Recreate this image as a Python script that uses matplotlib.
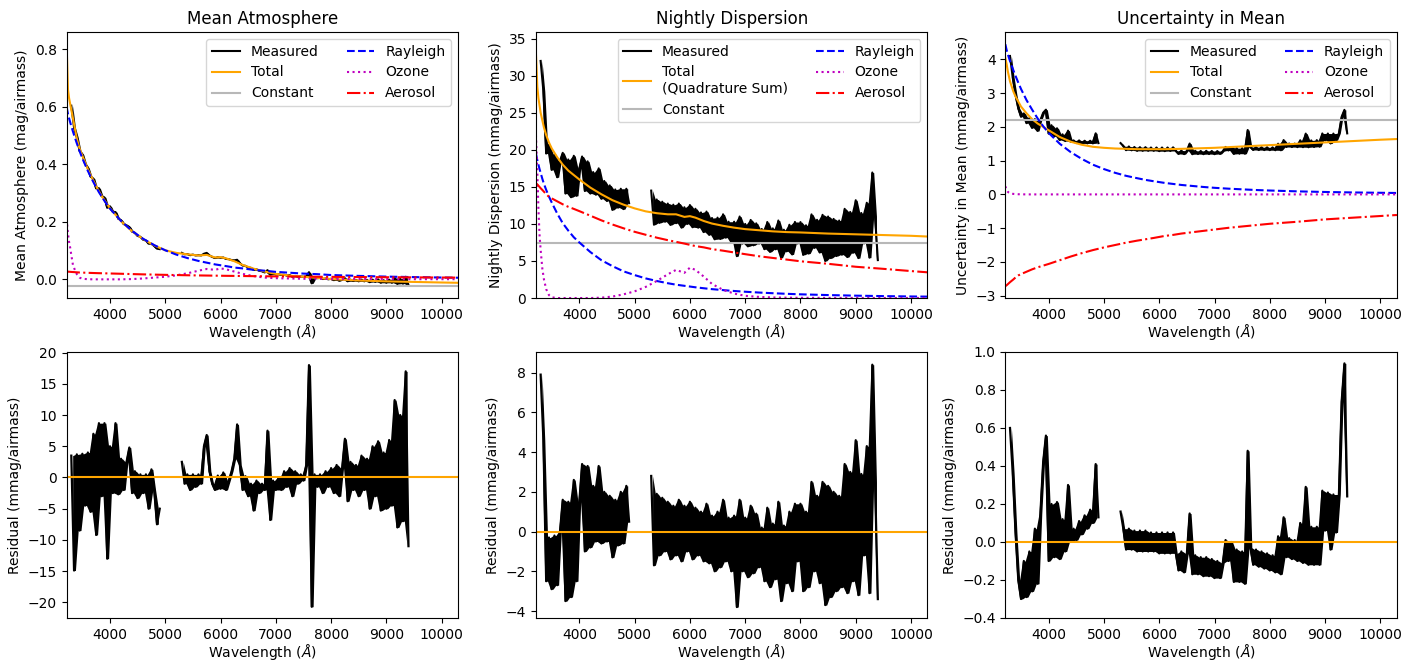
import numpy as np
import matplotlib
matplotlib.use("Agg")
import matplotlib.pyplot as plt

plt.rcParams['font.family'] = ['DejaVu Sans']
plt.rcParams['font.size'] = 10

# ---- model grid (Angstrom) ----
wl_model = [3215, 3240, 3260, 3280, 3300, 3330, 3360, 3400, 3450, 3500,
            3600, 3700, 3800, 3900, 4000, 4200, 4400, 4600, 4800, 5000,
            5200, 5400, 5600, 5750, 5900, 6000, 6100, 6250, 6400, 6600,
            6800, 7000, 7250, 7500, 7750, 8000, 8500, 9000, 9500, 10000, 10300]

# ---- measured grid: blue and red arms ----
wl_blue = np.arange(3300, 4901, 50)
wl_red = np.arange(5300, 9401, 50)

# ================= Mean atmosphere (mag/airmass) =================
mean_total = [0.82, 0.66, 0.63, 0.61, 0.59, 0.56, 0.53, 0.49, 0.455, 0.43,
              0.383, 0.343, 0.306, 0.275, 0.247, 0.202, 0.167, 0.140, 0.118, 0.101,
              0.092, 0.087, 0.083, 0.085, 0.076, 0.077, 0.073, 0.063, 0.050, 0.037,
              0.027, 0.019, 0.013, 0.009, 0.005, 0.001, -0.004, -0.007, -0.009, -0.011, -0.012]
mean_const = -0.022
mean_rayleigh = [0.600, 0.575, 0.560, 0.546, 0.533, 0.514, 0.496, 0.473, 0.446, 0.421,
                 0.377, 0.338, 0.303, 0.273, 0.246, 0.203, 0.168, 0.141, 0.119, 0.101,
                 0.086, 0.074, 0.064, 0.058, 0.052, 0.049, 0.046, 0.041, 0.038, 0.033,
                 0.030, 0.026, 0.023, 0.020, 0.018, 0.015, 0.012, 0.0095, 0.0078, 0.0063, 0.0056]
mean_ozone = [0.21, 0.16, 0.13, 0.11, 0.085, 0.05, 0.035, 0.018, 0.006, 0.002,
              0.0005, 0.0, 0.0, 0.0, 0.0, 0.0, 0.001, 0.003, 0.006, 0.009,
              0.014, 0.021, 0.030, 0.036, 0.033, 0.038, 0.035, 0.027, 0.019, 0.011,
              0.006, 0.004, 0.003, 0.002, 0.002, 0.001, 0.001, 0.001, 0.0005, 0.0005, 0.0005]
mean_aerosol = [0.027, 0.0267, 0.0264, 0.0261, 0.0258, 0.0254, 0.0250, 0.0244, 0.0238, 0.0234,
                0.0227, 0.0220, 0.0214, 0.0210, 0.0204, 0.0194, 0.0183, 0.0173, 0.0164, 0.0156,
                0.0149, 0.0142, 0.0136, 0.0132, 0.0128, 0.0125, 0.0122, 0.0119, 0.0115, 0.0111,
                0.0107, 0.0103, 0.0098, 0.0094, 0.0090, 0.0086, 0.0080, 0.0073, 0.0069, 0.0063, 0.0060]
mean_meas_blue = [0.604, 0.528, 0.494, 0.447, 0.434, 0.402, 0.387, 0.357, 0.350, 0.316,
                  0.317, 0.289, 0.285, 0.249, 0.254, 0.235, 0.234, 0.211, 0.206, 0.192,
                  0.188, 0.182, 0.166, 0.162, 0.151, 0.148, 0.138, 0.135, 0.124, 0.124,
                  0.116, 0.107, 0.105]
mean_meas_red = [0.092, 0.087, 0.088, 0.084, 0.086, 0.083, 0.084, 0.083, 0.089, 0.092,
                 0.083, 0.078, 0.074, 0.077, 0.075, 0.076, 0.071, 0.070, 0.067, 0.066,
                 0.068, 0.056, 0.048, 0.047, 0.041, 0.040, 0.033, 0.035, 0.030, 0.028,
                 0.024, 0.032, 0.016, 0.020, 0.017, 0.018, 0.015, 0.016, 0.013, 0.015,
                 0.009, 0.012, 0.009, 0.010, 0.009, 0.010, 0.025, -0.014, 0.007, 0.004,
                 0.005, 0.001, 0.003, 0.000, 0.002, -0.003, 0.001, -0.005, -0.001, 0.004,
                 -0.007, -0.001, -0.006, -0.002, -0.007, -0.001, -0.007, -0.002, -0.010, -0.001,
                 -0.009, 0.000, -0.012, -0.003, -0.012, -0.001, -0.012, 0.005, -0.016, 0.002,
                 -0.015, 0.009, -0.020]
mean_res_blue = [3.5, -14.9, 3.7, -8.5, 3.8, -4.5, 4.0, -5.5, 7.0, -9.2,
                 8.7, -3.0, 8.7, -13.0, 5.0, -2.5, 8.7, -2.7, 3.0, -2.0,
                 2.5, 4.8, -2.5, 1.0, -3.3, 0.5, -2.5, 0.5, -5.0, 1.3,
                 -2.0, -7.5, -5.0]
mean_res_red = [2.5, -1.0, 0.5, -2.0, 0.5, -1.5, 0.5, -1.0, 5.0, 6.8,
                1.0, -1.0, -2.0, 0.3, -1.8, 0.8, -2.0, -0.5, 1.0, 3.0,
                8.5, 2.0, -2.0, 0.2, -3.0, -1.0, -5.3, -0.5, -2.5, -1.0,
                -2.0, 7.5, -6.8, -0.5, -2.0, 0.0, -2.0, 1.0, -1.5, 1.5,
                -3.0, 1.0, -1.0, 0.5, -0.5, 2.0, 18.0, -20.7, 0.5, -1.5,
                0.5, -2.5, 1.0, -1.5, 1.5, -2.5, 2.0, -3.0, 1.5, 6.2,
                -3.8, 2.5, -2.0, 2.0, -3.0, 3.5, -2.0, 3.0, -5.0, 5.0,
                -3.0, 5.8, -5.3, 4.0, -5.0, 6.0, -4.5, 12.4, -8.0, 10.0,
                -7.0, 17.0, -11.0]

# ================= Nightly dispersion (mmag/airmass) =================
disp_total = [33.0, 28.5, 27.0, 26.0, 25.0, 24.0, 23.0, 22.0, 21.0, 20.2,
              19.0, 18.0, 17.2, 16.6, 16.0, 14.9, 14.0, 13.2, 12.6, 12.1,
              11.7, 11.45, 11.3, 11.3, 10.95, 11.05, 10.85, 10.4, 10.05, 9.75,
              9.5, 9.3, 9.15, 9.0, 8.9, 8.85, 8.7, 8.6, 8.5, 8.4, 8.3]
disp_const = 7.4
disp_rayleigh = [19.5, 18.6, 18.0, 17.4, 16.9, 16.1, 15.4, 14.6, 13.7, 12.9,
                 11.4, 10.1, 9.1, 8.2, 7.5, 6.2, 5.1, 4.3, 3.6, 3.1,
                 2.65, 2.3, 2.0, 1.8, 1.65, 1.55, 1.45, 1.32, 1.2, 1.07,
                 0.95, 0.85, 0.74, 0.65, 0.57, 0.5, 0.4, 0.32, 0.26, 0.21, 0.19]
disp_ozone = [22.0, 17.0, 12.0, 8.5, 6.5, 4.0, 2.5, 1.2, 0.4, 0.1,
              0.0, 0.0, 0.0, 0.0, 0.0, 0.0, 0.05, 0.2, 0.5, 0.9,
              1.5, 2.3, 3.2, 3.8, 3.4, 4.1, 3.8, 2.9, 1.9, 1.1,
              0.6, 0.3, 0.15, 0.08, 0.05, 0.03, 0.02, 0.01, 0.01, 0.01, 0.01]
disp_aerosol = [15.5, 15.33, 15.16, 14.99, 14.82, 14.59, 14.35, 14.01, 13.67, 13.45,
                13.05, 12.65, 12.31, 12.03, 11.73, 11.11, 10.48, 9.92, 9.41, 8.94,
                8.54, 8.15, 7.81, 7.58, 7.35, 7.18, 7.01, 6.84, 6.60, 6.39,
                6.15, 5.92, 5.64, 5.41, 5.19, 4.96, 4.62, 4.22, 3.94, 3.64, 3.47]
disp_meas_blue = [32.0, 27.9, 19.5, 20.7, 17.3, 19.4, 16.3, 18.5, 19.6, 14.1,
                  18.7, 13.6, 19.2, 13.8, 17.5, 19.1, 14.45, 18.45, 14.1, 17.0,
                  13.95, 17.5, 13.4, 15.8, 13.1, 15.2, 11.9, 14.65, 12.2, 14.75,
                  12.0, 14.75, 12.8]
disp_meas_red = [14.5, 9.9, 13.3, 10.15, 13.0, 10.3, 12.75, 9.87, 12.6, 10.1,
                 12.75, 9.5, 12.25, 10.0, 12.55, 9.55, 12.05, 9.5, 11.55, 8.9,
                 11.67, 8.53, 10.8, 7.92, 10.85, 7.97, 11.3, 8.15, 10.3, 7.55,
                 10.3, 5.65, 11.0, 7.35, 10.0, 6.97, 10.54, 7.11, 10.08, 7.35,
                 9.32, 6.59, 10.26, 6.23, 9.4, 6.58, 10.46, 5.44, 9.22, 6.3,
                 9.89, 5.88, 10.27, 7.36, 10.25, 5.83, 9.82, 6.0, 11.29, 6.77,
                 10.56, 6.14, 11.23, 5.01, 11.0, 5.39, 10.68, 5.67, 10.46, 5.85,
                 12.04, 5.53, 11.62, 6.11, 13.2, 5.39, 11.48, 7.37, 12.86, 5.45,
                 16.94, 11.03, 5.12]
disp_res_blue = [7.9, 4.6, -2.5, -0.3, -2.9, -0.2, -2.7, 0.0, 1.6, -3.5,
                 1.5, -3.3, 2.6, -2.5, 1.5, 3.4, -1.0, 3.3, -0.8, 2.3,
                 -0.5, 3.3, -0.6, 2.0, -0.5, 1.8, -1.3, 1.6, -0.7, 2.0,
                 -0.6, 2.3, 0.5]
disp_res_red = [2.8, -1.7, 1.9, -1.2, 1.7, -1.0, 1.5, -1.4, 1.3, -1.2,
                1.6, -1.5, 1.3, -1.0, 1.5, -1.4, 1.2, -1.2, 1.0, -1.5,
                1.4, -1.6, 0.8, -2.0, 1.0, -1.8, 1.6, -1.5, 0.7, -2.0,
                0.8, -3.8, 1.6, -2.0, 0.7, -2.3, 1.3, -2.1, 0.9, -1.8,
                0.2, -2.5, 1.2, -2.8, 0.4, -2.4, 1.5, -3.5, 0.3, -2.6,
                1.0, -3.0, 1.4, -1.5, 1.4, -3.0, 1.0, -2.8, 2.5, -2.0,
                1.8, -2.6, 2.5, -3.7, 2.3, -3.3, 2.0, -3.0, 1.8, -2.8,
                3.4, -3.1, 3.0, -2.5, 4.6, -3.2, 2.9, -1.2, 4.3, -3.1,
                8.4, 2.5, -3.4]

# ================= Uncertainty in mean (mmag/airmass) =================
unc_total = [4.05, 3.85, 3.65, 3.5, 3.35, 3.2, 3.05, 2.9, 2.75, 2.6,
             2.4, 2.23, 2.1, 2.0, 1.9, 1.7, 1.56, 1.47, 1.41, 1.38,
             1.36, 1.35, 1.34, 1.34, 1.34, 1.34, 1.34, 1.345, 1.35, 1.36,
             1.37, 1.38, 1.40, 1.42, 1.44, 1.46, 1.50, 1.54, 1.58, 1.62, 1.64]
unc_const = 2.2
unc_rayleigh = [4.45, 4.27, 4.16, 4.05, 3.95, 3.81, 3.68, 3.51, 3.31, 3.12,
                2.79, 2.51, 2.25, 2.02, 1.82, 1.50, 1.25, 1.05, 0.88, 0.75,
                0.64, 0.55, 0.48, 0.43, 0.39, 0.365, 0.34, 0.31, 0.28, 0.25,
                0.22, 0.195, 0.17, 0.15, 0.13, 0.115, 0.09, 0.072, 0.058, 0.048, 0.042]
unc_ozone = [0.24, 0.12, 0.08, 0.05, 0.03, 0.02, 0.015, 0.01, 0.005, 0.003,
             0.0, 0.0, 0.0, 0.0, 0.0, 0.0, 0.0, 0.0, 0.0, 0.0,
             0.0, 0.0, 0.0, 0.0, 0.0, 0.0, 0.0, 0.0, 0.0, 0.0,
             0.0, 0.0, 0.0, 0.0, 0.0, 0.0, 0.0, 0.0, 0.0, 0.0, 0.0]
unc_aerosol = [-2.72, -2.69, -2.66, -2.63, -2.60, -2.56, -2.52, -2.46, -2.40, -2.36,
               -2.29, -2.22, -2.16, -2.11, -2.06, -1.95, -1.84, -1.74, -1.65, -1.57,
               -1.50, -1.43, -1.37, -1.33, -1.29, -1.26, -1.23, -1.20, -1.16, -1.12,
               -1.08, -1.04, -0.99, -0.95, -0.91, -0.87, -0.81, -0.74, -0.69, -0.64, -0.61]
unc_meas_blue = [4.1, 3.46, 2.95, 2.55, 2.3, 2.4, 2.11, 2.26, 1.97, 2.23,
                 1.88, 2.2, 2.42, 2.51, 1.8, 2.05, 1.72, 1.96, 1.61, 1.78,
                 1.58, 1.89, 1.56, 1.6, 1.52, 1.6, 1.51, 1.59, 1.51, 1.59,
                 1.51, 1.81, 1.52]
unc_meas_red = [1.52, 1.43, 1.31, 1.42, 1.305, 1.405, 1.29, 1.40, 1.29, 1.40,
                1.29, 1.39, 1.29, 1.39, 1.28, 1.39, 1.28, 1.39, 1.285, 1.395,
                1.287, 1.198, 1.30, 1.192, 1.295, 1.507, 1.19, 1.292, 1.195, 1.287,
                1.19, 1.292, 1.195, 1.287, 1.19, 1.284, 1.198, 1.282, 1.406, 1.30,
                1.404, 1.198, 1.372, 1.206, 1.37, 1.204, 1.908, 1.402, 1.316, 1.40,
                1.314, 1.398, 1.312, 1.396, 1.31, 1.394, 1.308, 1.502, 1.306, 1.61,
                1.404, 1.508, 1.402, 1.506, 1.40, 1.604, 1.398, 1.802, 1.396, 1.60,
                1.404, 1.608, 1.412, 1.806, 1.60, 1.804, 1.508, 1.802, 1.606, 1.81,
                2.302, 2.505, 1.808]
unc_res_blue = [0.60, 0.36, 0.05, -0.20, -0.30, -0.10, -0.29, -0.05, -0.26, 0.07,
                -0.22, 0.15, 0.42, 0.56, -0.10, 0.20, -0.08, 0.21, -0.09, 0.12,
                -0.05, 0.30, 0.00, 0.07, 0.01, 0.11, 0.04, 0.14, 0.07, 0.17,
                0.10, 0.41, 0.13]
unc_res_red = [0.16, 0.07, -0.04, 0.07, -0.04, 0.06, -0.05, 0.06, -0.05, 0.06,
               -0.05, 0.05, -0.05, 0.05, -0.06, 0.05, -0.06, 0.05, -0.06, 0.05,
               -0.06, -0.15, -0.05, -0.16, -0.06, 0.15, -0.17, -0.07, -0.17, -0.08,
               -0.18, -0.08, -0.18, -0.09, -0.19, -0.10, -0.19, -0.11, 0.01, -0.10,
               0.00, -0.21, -0.04, -0.21, -0.05, -0.22, 0.48, -0.03, -0.12, -0.04,
               -0.13, -0.05, -0.14, -0.06, -0.15, -0.07, -0.16, 0.03, -0.17, 0.13,
               -0.08, 0.02, -0.09, 0.01, -0.10, 0.10, -0.11, 0.29, -0.12, 0.08,
               -0.12, 0.08, -0.12, 0.27, 0.06, 0.26, -0.04, 0.25, 0.05, 0.25,
               0.74, 0.94, 0.24]

XLIM = (3216, 10296)
XLABEL = r'Wavelength ($Å$)'
XTICKS = [4000, 5000, 6000, 7000, 8000, 9000, 10000]


def draw_measured(ax, blue, red, lw, label=None):
    # dense spectrum: zig-zag line plus the band it sweeps between neighbours
    for i, (x, v) in enumerate([(wl_blue, blue), (wl_red, red)]):
        v = np.asarray(v, float)
        lo = np.minimum(v[:-1], v[1:])
        hi = np.maximum(v[:-1], v[1:])
        xm = (x[:-1] + x[1:]) / 2
        ax.fill_between(xm, lo, hi, color='k', lw=0)
        ax.plot(x, v, color='k', lw=lw, label=label if i == 0 else None)


def top_panel(ax, meas_b, meas_r, total, const, ray, ozo, aer, title, ylabel, ylim,
              total_label='Total'):
    draw_measured(ax, meas_b, meas_r, 1.5, 'Measured')
    ax.plot(wl_model, total, color='orange', lw=1.5, label=total_label)
    ax.axhline(const, color='0.72', lw=1.5, label='Constant')
    ax.plot(wl_model, ray, 'b--', lw=1.5, label='Rayleigh')
    ax.plot(wl_model, ozo, 'm:', lw=1.5, label='Ozone')
    ax.plot(wl_model, aer, 'r-.', lw=1.5, label='Aerosol')
    ax.set_xlim(*XLIM)
    ax.set_ylim(*ylim)
    ax.set_title(title, fontsize=12)
    ax.set_ylabel(ylabel)
    ax.set_xlabel(XLABEL, labelpad=0)
    ax.set_xticks(XTICKS)
    ax.legend(loc='upper right', ncol=2, fontsize=10)


def bottom_panel(ax, res_b, res_r, ylim, yticks):
    draw_measured(ax, res_b, res_r, 1.6)
    ax.axhline(0, color='orange', lw=1.5)
    ax.set_xlim(*XLIM)
    ax.set_ylim(*ylim)
    ax.set_yticks(yticks)
    ax.set_ylabel('Residual (mmag/airmass)')
    ax.set_xlabel(XLABEL, labelpad=0)
    ax.set_xticks(XTICKS)


fig = plt.figure(figsize=(14.18, 6.62), dpi=100)
lefts = [0.047, 0.378, 0.709]
w, h = 0.276, 0.4018
top_axes = [fig.add_axes([l, 0.5498, w, h]) for l in lefts]
bot_axes = [fig.add_axes([l, 0.0665, w, h]) for l in lefts]

top_panel(top_axes[0], mean_meas_blue, mean_meas_red, mean_total, mean_const,
          mean_rayleigh, mean_ozone, mean_aerosol,
          'Mean Atmosphere', 'Mean Atmosphere (mag/airmass)', (-0.065, 0.86))
top_panel(top_axes[1], disp_meas_blue, disp_meas_red, disp_total, disp_const,
          disp_rayleigh, disp_ozone, disp_aerosol,
          'Nightly Dispersion', 'Nightly Dispersion (mmag/airmass)', (0, 35.9),
          total_label='Total\n(Quadrature Sum)')
top_panel(top_axes[2], unc_meas_blue, unc_meas_red, unc_total, unc_const,
          unc_rayleigh, unc_ozone, unc_aerosol,
          'Uncertainty in Mean', 'Uncertainty in Mean (mmag/airmass)', (-3.07, 4.81))

bottom_panel(bot_axes[0], mean_res_blue, mean_res_red, (-22.5, 20.1), np.arange(-20, 21, 5))
bottom_panel(bot_axes[1], disp_res_blue, disp_res_red, (-4.35, 9.04), np.arange(-4, 9, 2))
bottom_panel(bot_axes[2], unc_res_blue, unc_res_red, (-0.4, 1.0),
             np.round(np.arange(-0.4, 1.01, 0.2), 1))

fig.savefig('out.png', dpi=100)
